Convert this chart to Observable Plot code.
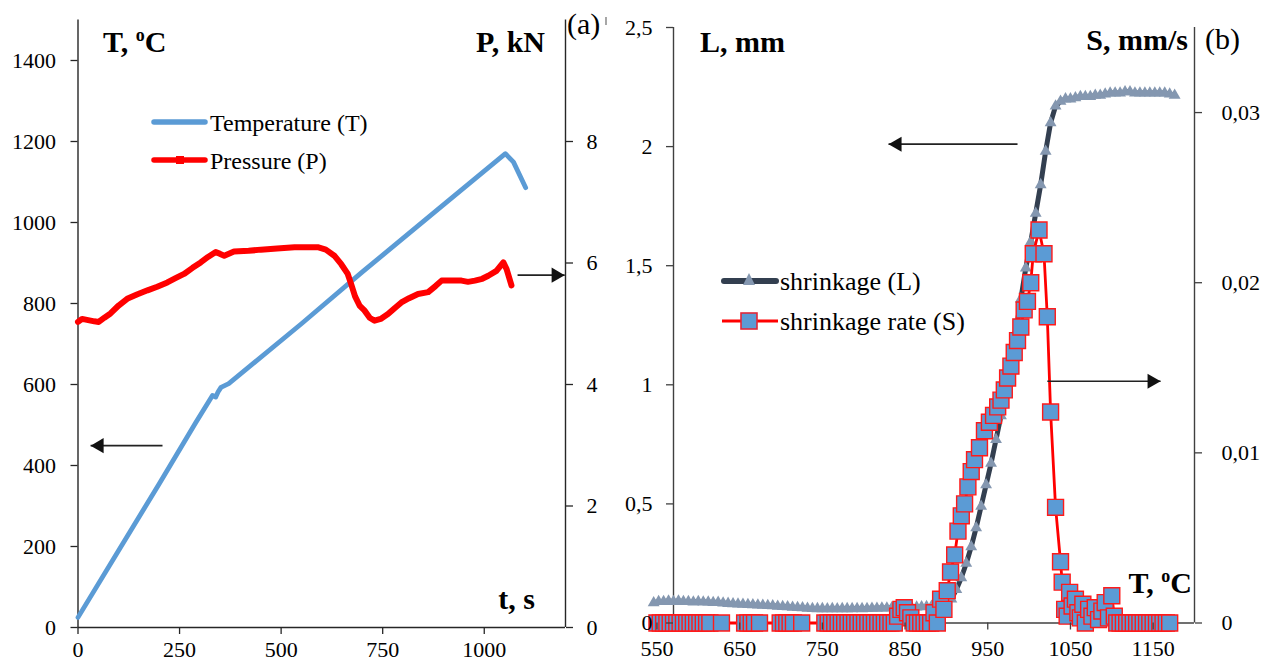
<!DOCTYPE html>
<html><head><meta charset="utf-8">
<script src="https://cdn.jsdelivr.net/npm/d3@7"></script>
<script src="https://cdn.jsdelivr.net/npm/@observablehq/plot@0.6"></script>
<style>
body{margin:0;background:#fff;}
#wrap{position:relative;width:1266px;height:665px;overflow:hidden;font-family:"Liberation Serif","Times New Roman",serif;background:#fff;}
#left,#right{position:absolute;top:0;}
#left{left:0px}
#right{left:633px}
#overlay{position:absolute;left:0;top:0;pointer-events:none}
</style></head><body>
<div id="wrap"><div id="left"></div><div id="right"></div><svg id="overlay" width="1266" height="665"></svg></div>
<script>
// ---------- Panel (a) data ----------
const tempTime = [0, 100, 200, 290, 331, 339, 345, 352, 371, 550, 700, 900, 1052, 1072, 1102];
const tempVal  = [25, 190, 355, 506, 573, 569, 582, 593, 602, 750, 878, 1044, 1170, 1149, 1086];
const presTime = [0, 10, 25, 40, 51, 65, 80, 100, 121, 145, 171, 195, 220, 240, 261, 282, 302, 320, 339, 350, 360, 384, 420, 450, 490, 533, 560, 590, 610, 631, 648, 664, 672, 682, 693, 705, 718, 730, 745, 763, 780, 796, 815, 837, 862, 880, 895, 920, 944, 960, 977, 995, 1010, 1030, 1047, 1055, 1067];
const presVal  = [5.03, 5.08, 5.06, 5.04, 5.03, 5.1, 5.17, 5.3, 5.41, 5.48, 5.55, 5.61, 5.68, 5.75, 5.82, 5.92, 6.01, 6.1, 6.18, 6.15, 6.12, 6.19, 6.2, 6.22, 6.24, 6.26, 6.26, 6.26, 6.22, 6.12, 5.98, 5.82, 5.66, 5.45, 5.3, 5.22, 5.1, 5.05, 5.08, 5.16, 5.26, 5.35, 5.42, 5.49, 5.52, 5.62, 5.71, 5.71, 5.71, 5.69, 5.71, 5.74, 5.79, 5.87, 6.01, 5.9, 5.63];
const timeTicks = [0, 250, 500, 750, 1000];
const tempTicks = [0, 200, 400, 600, 800, 1000, 1200, 1400];
const presTicks = [0, 2, 4, 6, 8];

// ---------- Panel (b) data ----------
const lTemp = [546,552,558,564,570,576,582,588,594,600,606,612,618,624,630,636,642,648,654,660,666,672,678,684,690,696,702,708,714,720,726,732,738,744,750,756,762,768,774,780,786,792,798,804,810,816,822,828,834,840,846,852,858,864,870,876,882,888,894,900,906,912,918,924,930,936,942,948,954,960,966,972,978,984,990,996,1002,1008,1014,1020,1026,1032,1038,1044,1050,1056,1062,1068,1074,1080,1086,1092,1098,1104,1110,1116,1122,1128,1134,1140,1146,1152,1158,1164,1170,1176];
const lVal  = [0.085,0.09,0.09,0.092,0.09,0.092,0.09,0.09,0.088,0.09,0.088,0.088,0.086,0.087,0.084,0.082,0.08,0.079,0.078,0.077,0.076,0.075,0.074,0.073,0.072,0.07,0.069,0.068,0.066,0.065,0.064,0.062,0.061,0.06,0.06,0.059,0.06,0.059,0.06,0.06,0.06,0.061,0.06,0.061,0.062,0.062,0.063,0.063,0.064,0.064,0.065,0.066,0.066,0.067,0.068,0.069,0.07,0.072,0.076,0.085,0.1,0.14,0.19,0.25,0.32,0.4,0.49,0.58,0.67,0.77,0.87,0.98,1.1,1.22,1.36,1.49,1.6,1.72,1.84,1.98,2.1,2.17,2.19,2.2,2.2,2.205,2.21,2.21,2.21,2.215,2.215,2.22,2.225,2.225,2.225,2.23,2.23,2.225,2.225,2.225,2.225,2.225,2.225,2.225,2.22,2.215];
const sTemp = [550,554,558,562,566,570,574,578,582,586,590,594,598,602,606,610,614,628,
  656,660,664,668,674,
  699,703,707,711,715,725,
  753,757,761,765,769,773,777,781,785,789,793,797,801,805,809,813,817,821,825,829,833,837,841,845,849,853,857,861,865,869,873,877,881,885,889,893,897,901,905,910,914,918,922,926,930,934,940,946,952,957,962,966,970,974,978,982,986,990,994,998,1002,1005,1012,1018,1022,1026,1032,1038,1040,1043,1046,1049,1052,1056,1059,1062,1065,1068,1072,1076,1080,1084,1088,1092,1096,1100,1103,1106,1110,1114,1118,1122,1126,1130,1134,1138,1142,1146,1150,1154,1158,1162,1166,1170];
const sRate = [0,0,0,0,0,0,0,0,0,0,0,0,0,0,0,0,0,0,
  0,0,0,0,0,
  0,0,0,0,0,0,
  0,0,0,0,0,0,0,0,0,0,0,0,0,0,0,0,0,0,0,0,0,0,0.0004,0.0008,0.0009,0.0006,0.0003,0,0,0,0,0,0,0.0006,0,0.0014,0.0008,0.0019,0.003,0.004,0.0054,0.0063,0.007,0.008,0.0089,0.0096,0.0103,0.0113,0.0118,0.0122,0.0127,0.0131,0.0137,0.0144,0.0151,0.0159,0.0166,0.0174,0.0184,0.0189,0.02,0.0217,0.0231,0.0217,0.018,0.0124,0.0068,0.0036,0.0024,0.0008,0.0004,0.0018,0.001,0.0014,0.0006,0.0003,0.0011,0,0.0008,0.0004,0.0009,0.0002,0.0007,0.0012,0.0003,0.0016,0.0004,0,0,0,0,0,0,0,0,0,0,0,0,0,0,0,0,0];
const tempCTicks = [550, 650, 750, 850, 950, 1050, 1150];
const lTicks = [0, 0.5, 1, 1.5, 2, 2.5];
const sTicks = [0, 0.01, 0.02, 0.03];

// ---------- build tables ----------
const tempData = tempTime.map((t, i) => ({t, v: tempVal[i]}));
const presData = presTime.map((t, i) => ({t, v: presVal[i]}));
const lData = lTemp.map((T, i) => ({T, v: lVal[i]}));
const sData = sTemp.map((T, i) => ({T, v: sRate[i]}));

const FONT = '"Liberation Serif","Times New Roman",serif';
const pk = 1500 / 10;           // P (kN) -> T axis units
const sk = 2.5 / 0.035;         // S (mm/s) -> L axis units
const comma = d => String(d).replace(".", ",");

// arrow helper: a straight shaft plus a filled head (dot rotated toward the tip)
function arrowMarks(x1, x2, y) {
  const dir = x2 < x1 ? -1 : 1;
  const rr = 5.6;
  return [
    Plot.link([{a: x1, b: x2, y}], {x1: "a", x2: "b", y1: "y", y2: "y", stroke: "#222", strokeWidth: 1.7}),
    Plot.dot([{x: x2, y}], {x: "x", y: "y", symbol: "triangle", r: rr, fill: "#111", stroke: "none",
      rotate: dir < 0 ? -90 : 90, dx: -dir * rr * 1.555})
  ];
}

// ---------- Panel (a) ----------
const axA = "#262626";
const left = Plot.plot({
  width: 633, height: 665,
  marginLeft: 77.5, marginRight: 68, marginTop: 19.5, marginBottom: 38,
  x: {domain: [0, 1200]},
  y: {domain: [0, 1500]},
  style: {fontFamily: FONT, fontSize: "22px", color: "#000", background: "transparent", overflow: "visible"},
  marks: [
    Plot.ruleX([0], {stroke: axA, strokeWidth: 1.4}),
    Plot.ruleX([1200], {stroke: axA, strokeWidth: 1.4}),
    Plot.ruleY([0], {stroke: axA, strokeWidth: 1.4}),
    Plot.line(tempData, {x: "t", y: "v", stroke: "#5b9bd5", strokeWidth: 4.8}),
    Plot.line(presData, {x: "t", y: d => d.v * pk, stroke: "#ff0000", strokeWidth: 6}),
    Plot.axisY({anchor: "left", ticks: tempTicks, tickSize: 7, tickPadding: 15, tickFormat: d => String(d), label: null, fontSize: 22, stroke: axA, strokeWidth: 1.3}),
    Plot.axisY({anchor: "right", ticks: presTicks.map(p => p * pk), tickSize: 7, tickPadding: 14, tickFormat: d => String(Math.round(d / pk)), label: null, fontSize: 22, stroke: axA, strokeWidth: 1.3}),
    Plot.axisX({anchor: "bottom", ticks: timeTicks, tickSize: 7, tickPadding: 7, tickFormat: d => String(d), label: null, fontSize: 22, stroke: axA, strokeWidth: 1.3}),
    ...arrowMarks(208, 31, 449),
    ...arrowMarks(1082, 1198, 5.8 * pk)
  ]
});
document.getElementById("left").append(left);

// ---------- Panel (b) ----------
const axB = "#404040";
const right = Plot.plot({
  width: 633, height: 665,
  marginLeft: 40, marginRight: 72, marginTop: 27, marginBottom: 42.5,
  x: {domain: [570, 1200]},
  y: {domain: [0, 2.5]},
  style: {fontFamily: FONT, fontSize: "22px", color: "#000", background: "transparent", overflow: "visible"},
  marks: [
    Plot.ruleX([570], {stroke: axB, strokeWidth: 1.4}),
    Plot.ruleX([1200], {stroke: axB, strokeWidth: 1.4}),
    Plot.ruleY([0], {stroke: axB, strokeWidth: 1.4}),
    Plot.line(lData, {x: "T", y: "v", stroke: "#333f50", strokeWidth: 5}),
    Plot.dot(lData, {x: "T", y: "v", symbol: "triangle", r: 4.4, fill: "#8497b0", stroke: "none"}),
    Plot.line(sData, {x: "T", y: d => d.v * sk, stroke: "#ff0000", strokeWidth: 2.8}),
    Plot.dot(sData, {x: "T", y: d => d.v * sk, symbol: "square", r: 9, fill: "#5b9bd5", stroke: "#ff1a1a", strokeWidth: 1.4}),
    Plot.axisY({anchor: "left", ticks: lTicks, tickSize: 7, tickPadding: 14, tickFormat: comma, label: null, fontSize: 22, stroke: axB, strokeWidth: 1.3}),
    Plot.axisY({anchor: "right", ticks: sTicks.map(s => s * sk), tickSize: 7, tickPadding: 20, tickFormat: d => comma(Math.round(d / sk * 100) / 100), label: null, fontSize: 22, stroke: axB, strokeWidth: 1.3}),
    Plot.axisX({anchor: "bottom", ticks: tempCTicks, tickSize: 7, tickPadding: 10, tickFormat: d => String(d), label: null, fontSize: 22, stroke: axB, strokeWidth: 1.3}),
    ...arrowMarks(986, 830, 2.01),
    ...arrowMarks(1022, 1159, 1.015)
  ]
});
document.getElementById("right").append(right);

// ---------- titles & legends (overlay) ----------
const ov = d3.select("#overlay").style("font-family", FONT);
function unitTitle(x, y, anchor, before, after) {
  const t = ov.append("text").attr("x", x).attr("y", y).attr("text-anchor", anchor)
    .attr("font-size", 30).attr("font-weight", "bold").attr("fill", "#000");
  t.append("tspan").text(before);
  t.append("tspan").attr("dy", -11).attr("font-size", 18).text("o");
  t.append("tspan").attr("dy", 11).text(after);
}
function plainText(x, y, anchor, txt, size, weight) {
  ov.append("text").attr("x", x).attr("y", y).attr("text-anchor", anchor)
    .attr("font-size", size).attr("font-weight", weight || "normal").attr("fill", "#000").text(txt);
}
unitTitle(103, 52, "start", "T, ", "C");
plainText(545, 52, "end", "P, kN", 30, "bold");
plainText(567, 34, "start", "(a)", 30);
ov.append("line").attr("x1", 606).attr("x2", 606).attr("y1", 17).attr("y2", 25)
  .attr("stroke", "#777").attr("stroke-width", 1.3);
plainText(535, 609, "end", "t, s", 30, "bold");
plainText(700, 52, "start", "L, mm", 30, "bold");
plainText(1188, 50, "end", "S, mm/s", 30, "bold");
plainText(1205, 49, "start", "(b)", 30);
unitTitle(1192, 593, "end", "T, ", "C");

// left legend
ov.append("line").attr("x1", 154).attr("x2", 205).attr("y1", 122).attr("y2", 122)
  .attr("stroke", "#5b9bd5").attr("stroke-width", 5.5).attr("stroke-linecap", "round");
ov.append("line").attr("x1", 154).attr("x2", 205).attr("y1", 160).attr("y2", 160)
  .attr("stroke", "#ff0000").attr("stroke-width", 5.5).attr("stroke-linecap", "round");
ov.append("rect").attr("x", 176).attr("y", 156).attr("width", 8).attr("height", 8).attr("fill", "#ff0000");
plainText(210, 131, "start", "Temperature (T)", 24);
plainText(210, 169, "start", "Pressure (P)", 24);

// right legend
ov.append("line").attr("x1", 724).attr("x2", 776).attr("y1", 281).attr("y2", 281)
  .attr("stroke", "#333f50").attr("stroke-width", 6).attr("stroke-linecap", "round");
ov.append("path").attr("d", "M749,273 L755,285 L743,285 Z").attr("fill", "#8497b0");
ov.append("line").attr("x1", 722).attr("x2", 778).attr("y1", 321).attr("y2", 321)
  .attr("stroke", "#ff0000").attr("stroke-width", 3);
ov.append("rect").attr("x", 741).attr("y", 313).attr("width", 16).attr("height", 16)
  .attr("fill", "#5b9bd5").attr("stroke", "#e0283a").attr("stroke-width", 1.6);
plainText(780, 290, "start", "shrinkage (L)", 26);
plainText(780, 330, "start", "shrinkage rate (S)", 26);
</script>
</body></html>
